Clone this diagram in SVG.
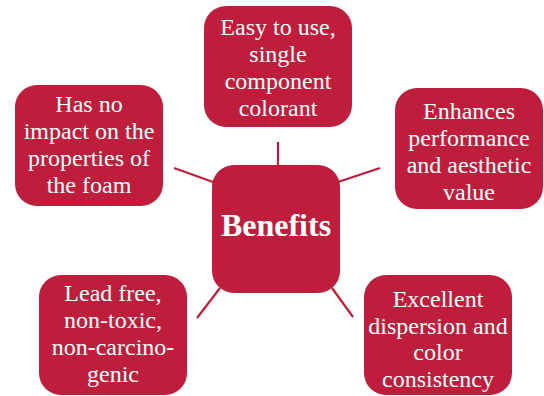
<svg xmlns="http://www.w3.org/2000/svg" width="544" height="396" viewBox="0 0 544 396">
<style>
.box{fill:#BE1E3C}
.t{font-family:"Liberation Serif","DejaVu Serif",serif;font-size:24px;fill:#fff;text-anchor:middle}
.c{stroke:#BE1E3C;stroke-width:2.2;fill:none}
</style>
<rect width="544" height="396" fill="#fff"/>
<g id="connectors">
<line class="c" x1="278" y1="142" x2="278" y2="165"/>
<line class="c" x1="174" y1="168" x2="213" y2="182"/>
<line class="c" x1="338" y1="182" x2="380" y2="168"/>
<line class="c" x1="220" y1="288" x2="197" y2="318"/>
<line class="c" x1="332" y1="288" x2="353" y2="317"/>
</g>
<g id="center">
<rect class="box" x="212" y="165" width="128" height="128" rx="22"/>
<text class="t" x="276" y="236" style="font-weight:bold;font-size:32px">Benefits</text>
</g>
<g id="top">
<rect class="box" x="204" y="6" width="148" height="121" rx="22"/>
<text class="t" x="278" y="35">Easy to use,</text>
<text class="t" x="278" y="62">single</text>
<text class="t" x="278" y="89">component</text>
<text class="t" x="278" y="116">colorant</text>
</g>
<g id="left-top">
<rect class="box" x="15" y="85" width="148" height="121" rx="22"/>
<text class="t" x="89" y="112">Has no</text>
<text class="t" x="89" y="139">impact on the</text>
<text class="t" x="89" y="166">properties of</text>
<text class="t" x="89" y="193">the foam</text>
</g>
<g id="right">
<rect class="box" x="395" y="88" width="148" height="121" rx="22"/>
<text class="t" x="469" y="119">Enhances</text>
<text class="t" x="469" y="146">performance</text>
<text class="t" x="469" y="173">and aesthetic</text>
<text class="t" x="469" y="200">value</text>
</g>
<g id="bottom-left">
<rect class="box" x="39" y="275" width="148" height="120" rx="22"/>
<text class="t" x="113" y="301">Lead free,</text>
<text class="t" x="113" y="328">non-toxic,</text>
<text class="t" x="113" y="355">non-carcino-</text>
<text class="t" x="113" y="382">genic</text>
</g>
<g id="bottom-right">
<rect class="box" x="364" y="275" width="148" height="120" rx="22"/>
<text class="t" x="438" y="307">Excellent</text>
<text class="t" x="438" y="334">dispersion and</text>
<text class="t" x="438" y="360">color</text>
<text class="t" x="438" y="387">consistency</text>
</g>
</svg>
